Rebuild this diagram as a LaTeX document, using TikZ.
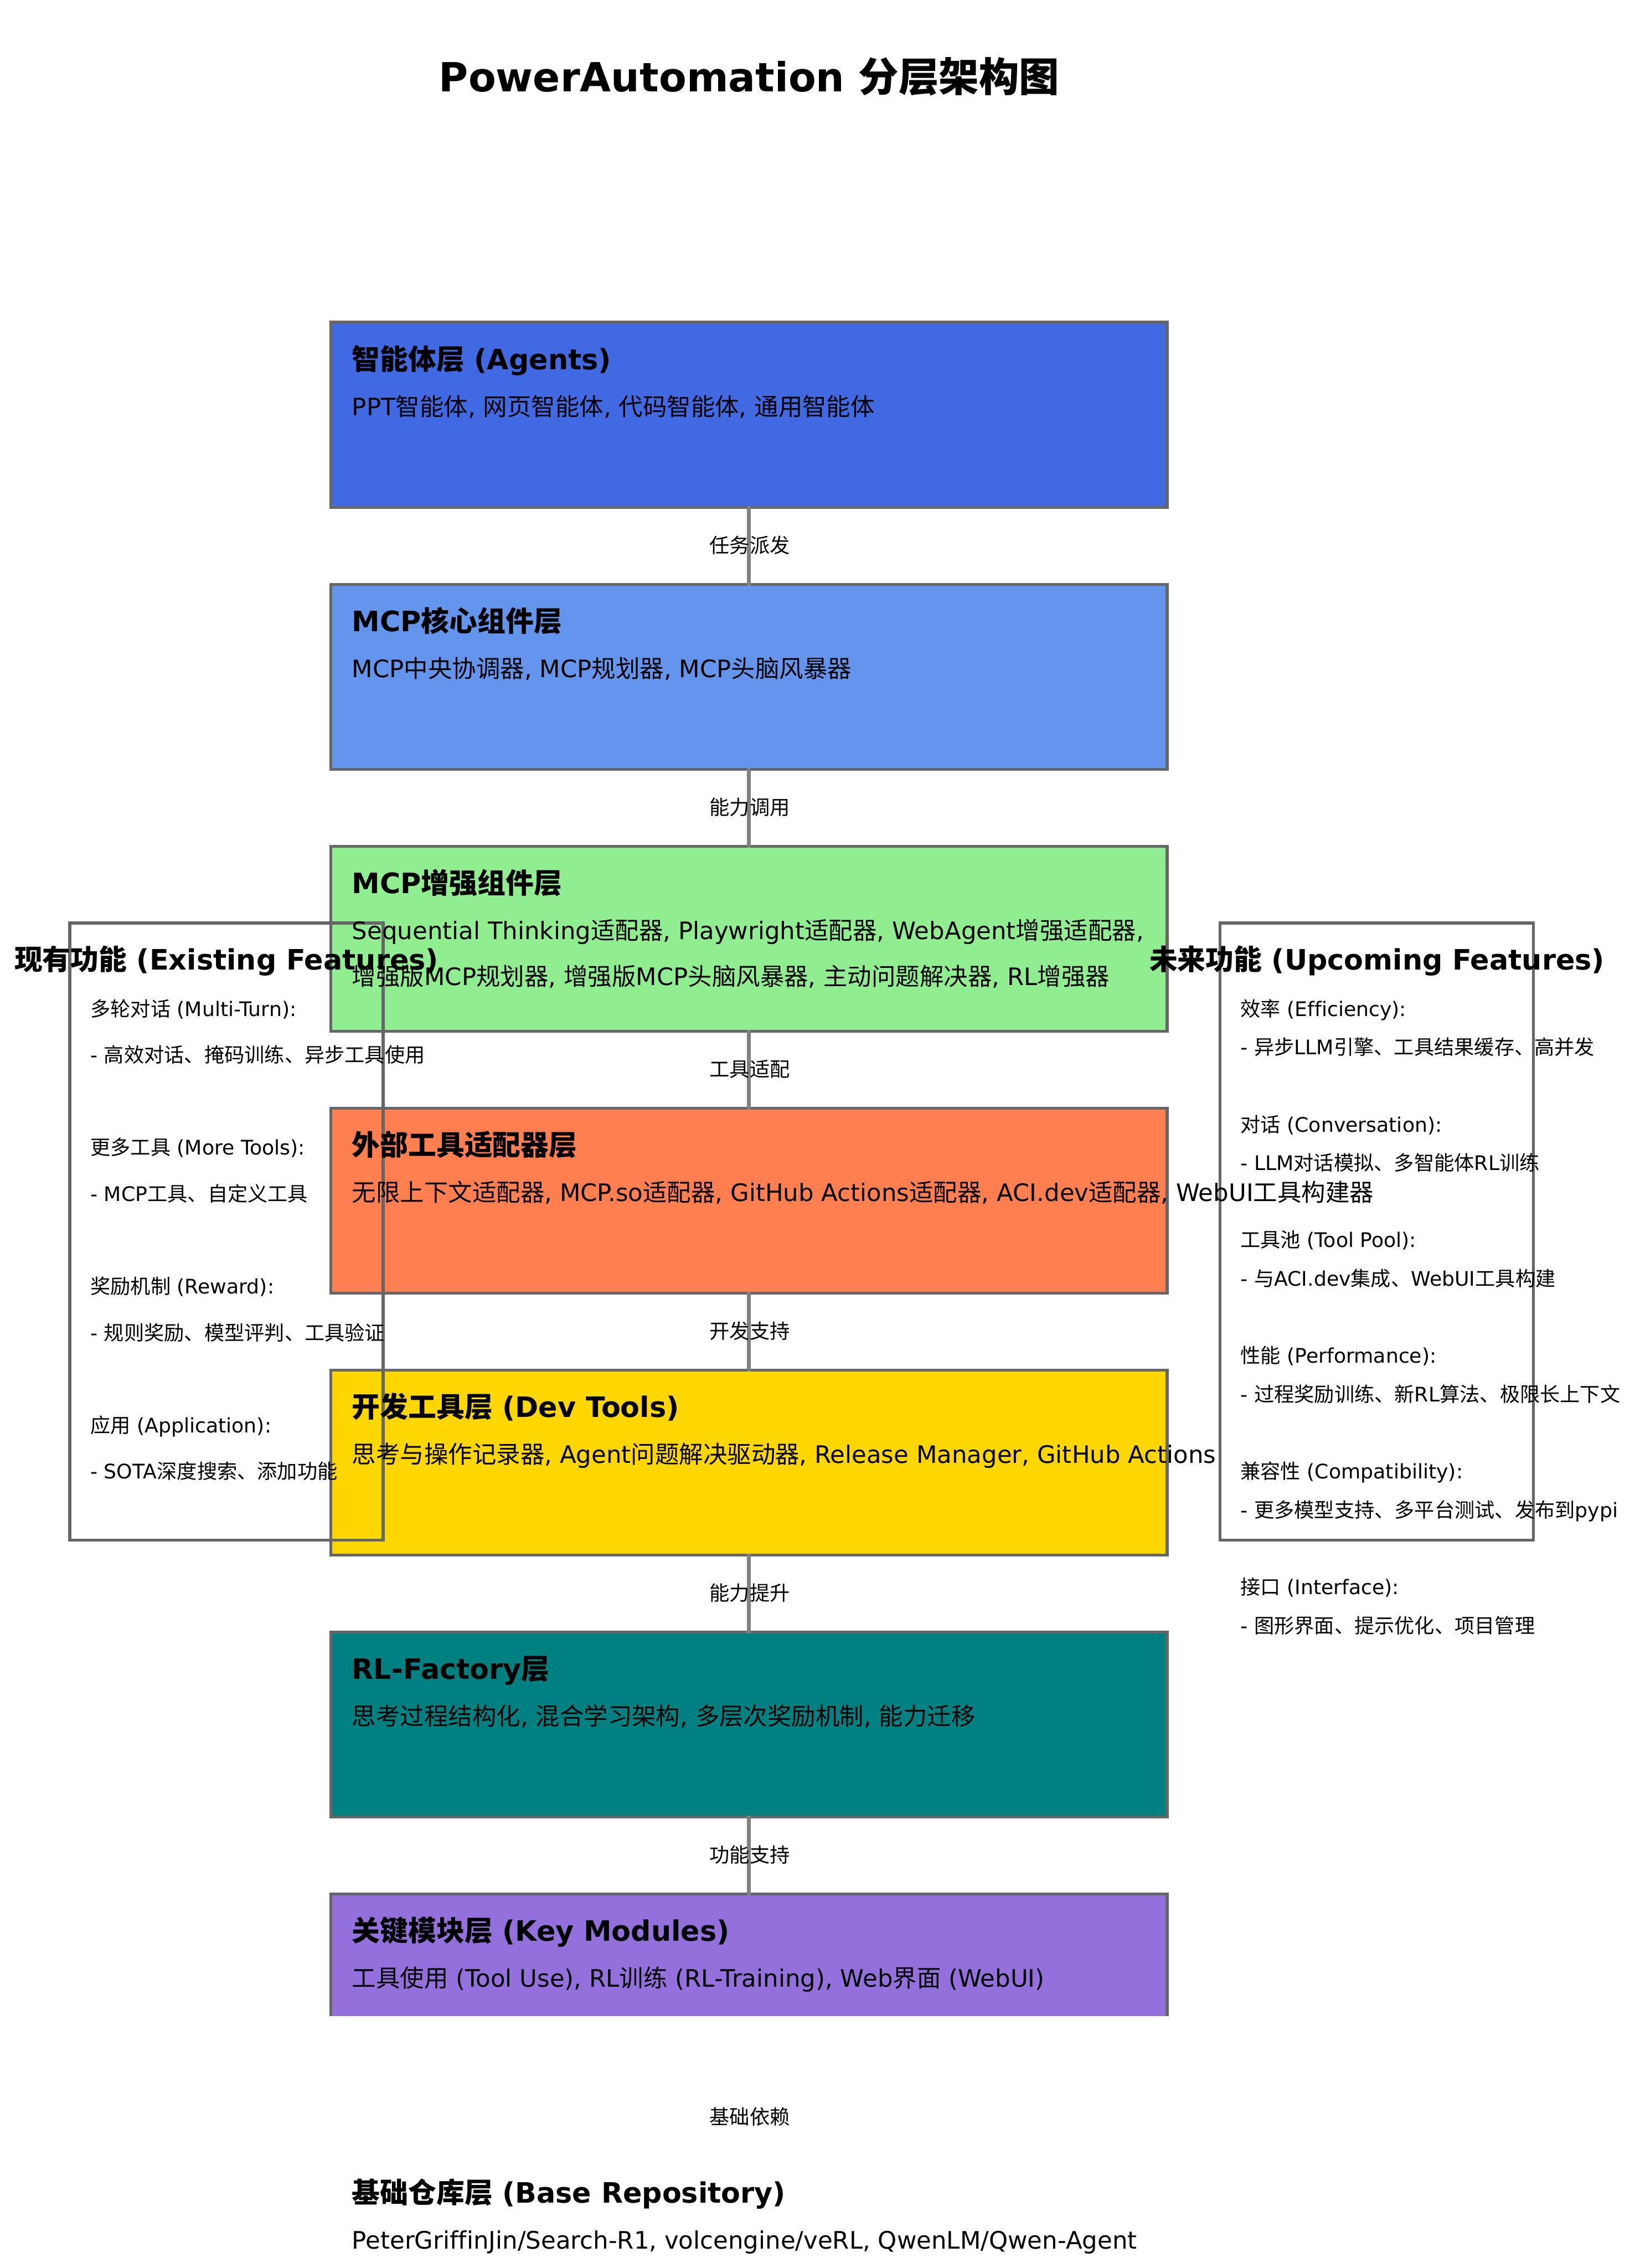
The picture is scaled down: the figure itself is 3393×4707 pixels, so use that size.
\documentclass[tikz,border=0pt]{standalone}
\usepackage{fontspec}
\setmainfont{DejaVu Sans}[Ligatures=NoCommon]
\newfontfamily\cjkfont{Noto Sans CJK SC}
\XeTeXinterchartokenstate=1
\newXeTeXintercharclass\cjkcls
\newcount\cjkcnt
\def\cjkrange#1#2{\cjkcnt=#1\relax\loop\XeTeXcharclass\cjkcnt=\cjkcls\relax\ifnum\cjkcnt<#2\relax\advance\cjkcnt by 1\relax\repeat}
\cjkrange{"4E00}{"9FFF}
\cjkrange{"3000}{"303F}
\cjkrange{"FF00}{"FFEF}
\XeTeXinterchartoks 0 \cjkcls = {\begingroup\cjkfont}
\XeTeXinterchartoks 4095 \cjkcls = {\begingroup\cjkfont}
\XeTeXinterchartoks \cjkcls 0 = {\endgroup}
\XeTeXinterchartoks \cjkcls 4095 = {\endgroup}

\definecolor{cA}{HTML}{4169E1}
\definecolor{cB}{HTML}{6495ED}
\definecolor{cC}{HTML}{90EE90}
\definecolor{cD}{HTML}{FF7F50}
\definecolor{cE}{HTML}{FFD700}
\definecolor{cF}{HTML}{008080}
\definecolor{cG}{HTML}{9370DB}
\definecolor{bordergray}{HTML}{666666}
\definecolor{conngray}{HTML}{808080}

\tikzset{
  layer/.style={rectangle, draw=bordergray, line width=0.06cm, minimum width=17.35cm, minimum height=3.84cm, inner sep=0pt, outer sep=0pt},
  conn/.style={draw=conngray, line width=0.08cm, shorten <=-0.03cm, shorten >=-0.03cm},
  panel/.style={rectangle, draw=bordergray, line width=0.06cm, minimum width=6.5cm, minimum height=12.8cm, inner sep=0pt, outer sep=0pt},
  ltitle/.style={font=\bfseries\fontsize{16.6}{20}\selectfont, anchor=base west, inner sep=0pt},
  ltext/.style={font=\fontsize{14.2}{17}\selectfont, anchor=base west, inner sep=0pt},
  clabel/.style={font=\fontsize{11.86}{14}\selectfont, anchor=base, inner sep=0pt},
  ptitle/.style={font=\bfseries\fontsize{16.6}{20}\selectfont, anchor=base, inner sep=0pt},
  pitem/.style={font=\fontsize{11.84}{14}\selectfont, anchor=base west, inner sep=0pt},
  maintitle/.style={font=\bfseries\fontsize{23.7}{28}\selectfont, anchor=base, inner sep=0pt}
}

\begin{document}
\begin{tikzpicture}[x=0.01cm,y=-0.01cm]
\fill[white] (0,0) rectangle (3393,4707);
\path[use as bounding box] (0,0) rectangle (3393,4707);

\begin{scope}
\clip (0,0) rectangle (3393,4183);
\node[layer, fill=cA] (b1) at (1554.5,861) {};
\node[layer, fill=cB] (b2) at (1554.5,1404.6) {};
\node[layer, fill=cC] (b3) at (1554.5,1948.2) {};
\node[layer, fill=cD] (b4) at (1554.5,2491.8) {};
\node[layer, fill=cE] (b5) at (1554.5,3035.4) {};
\node[layer, fill=cF] (b6) at (1554.5,3579) {};
\node[layer, fill=cG] (b7) at (1554.5,4122.6) {};
\draw[conn] (b1.south) -- (b2.north);
\draw[conn] (b2.south) -- (b3.north);
\draw[conn] (b3.south) -- (b4.north);
\draw[conn] (b4.south) -- (b5.north);
\draw[conn] (b5.south) -- (b6.north);
\draw[conn] (b6.south) -- (b7.north);
\end{scope}

% connector labels
\node[clabel] (l1) at (1556,1147) {任务派发};
\node[clabel] (l2) at (1556,1690.6) {能力调用};
\node[clabel] (l3) at (1556,2234.2) {工具适配};
\node[clabel] (l4) at (1556,2777.8) {开发支持};
\node[clabel] (l5) at (1556,3321.4) {能力提升};
\node[clabel] (l6) at (1556,3865) {功能支持};
\node[clabel] (l7) at (1556,4408.6) {基础依赖};

% side panels
\node[panel] (pl) at (470,2556) {};
\node[panel] (pr) at (2857.5,2556) {};

% main title
\node[maintitle] (title) at (1555,190) {PowerAutomation 分层架构图};

% layer texts
\node[ltitle] (t1) at (730,767) {智能体层 (Agents)};
\node[ltext] (d1) at (730,862) {PPT智能体, 网页智能体, 代码智能体, 通用智能体};
\node[ltitle] (t2) at (730,1310.6) {MCP核心组件层};
\node[ltext] (d2) at (730,1405.6) {MCP中央协调器, MCP规划器, MCP头脑风暴器};
\node[ltitle] (t3) at (730,1854.2) {MCP增强组件层};
\node[ltext] (d3) at (730,1949.2) {Sequential Thinking适配器, Playwright适配器, WebAgent增强适配器,};
\node[ltext] (d3b) at (730,2045.2) {增强版MCP规划器, 增强版MCP头脑风暴器, 主动问题解决器, RL增强器};
\node[ltitle] (t4) at (730,2397.8) {外部工具适配器层};
\node[ltext] (d4) at (730,2492.8) {无限上下文适配器, MCP.so适配器, GitHub Actions适配器, ACI.dev适配器, WebUI工具构建器};
\node[ltitle] (t5) at (730,2941.4) {开发工具层 (Dev Tools)};
\node[ltext] (d5) at (730,3036.4) {思考与操作记录器, Agent问题解决驱动器, Release Manager, GitHub Actions};
\node[ltitle] (t6) at (730,3485) {RL-Factory层};
\node[ltext] (d6) at (730,3580) {思考过程结构化, 混合学习架构, 多层次奖励机制, 能力迁移};
\node[ltitle] (t7) at (730,4028.6) {关键模块层 (Key Modules)};
\node[ltext] (d7) at (730,4123.6) {工具使用 (Tool Use), RL训练 (RL-Training), Web界面 (WebUI)};
\node[ltitle] (t8) at (730,4572.2) {基础仓库层 (Base Repository)};
\node[ltext] (d8) at (730,4667.2) {PeterGriffinJin/Search-R1, volcengine/veRL, QwenLM/Qwen-Agent};

% left panel texts
\node[ptitle] (plt) at (470,2013) {现有功能 (Existing Features)};
\node[pitem] (pl1) at (187,2109) {多轮对话 (Multi-Turn):};
\node[pitem] (pl2) at (187,2205) {- 高效对话、掩码训练、异步工具使用};
\node[pitem] (pl3) at (187,2397) {更多工具 (More Tools):};
\node[pitem] (pl4) at (187,2493) {- MCP工具、自定义工具};
\node[pitem] (pl5) at (187,2685) {奖励机制 (Reward):};
\node[pitem] (pl6) at (187,2781) {- 规则奖励、模型评判、工具验证};
\node[pitem] (pl7) at (187,2973) {应用 (Application):};
\node[pitem] (pl8) at (187,3069) {- SOTA深度搜索、添加功能};

% right panel texts
\node[ptitle] (prt) at (2858,2013) {未来功能 (Upcoming Features)};
\node[pitem] (pr1) at (2574,2109) {效率 (Efficiency):};
\node[pitem] (pr2) at (2574,2189) {- 异步LLM引擎、工具结果缓存、高并发};
\node[pitem] (pr3) at (2574,2349) {对话 (Conversation):};
\node[pitem] (pr4) at (2574,2429) {- LLM对话模拟、多智能体RL训练};
\node[pitem] (pr5) at (2574,2589) {工具池 (Tool Pool):};
\node[pitem] (pr6) at (2574,2669) {- 与ACI.dev集成、WebUI工具构建};
\node[pitem] (pr7) at (2574,2829) {性能 (Performance):};
\node[pitem] (pr8) at (2574,2909) {- 过程奖励训练、新RL算法、极限长上下文};
\node[pitem] (pr9) at (2574,3069) {兼容性 (Compatibility):};
\node[pitem] (pr10) at (2574,3149) {- 更多模型支持、多平台测试、发布到pypi};
\node[pitem] (pr11) at (2574,3309) {接口 (Interface):};
\node[pitem] (pr12) at (2574,3389) {- 图形界面、提示优化、项目管理};
\end{tikzpicture}
\end{document}
